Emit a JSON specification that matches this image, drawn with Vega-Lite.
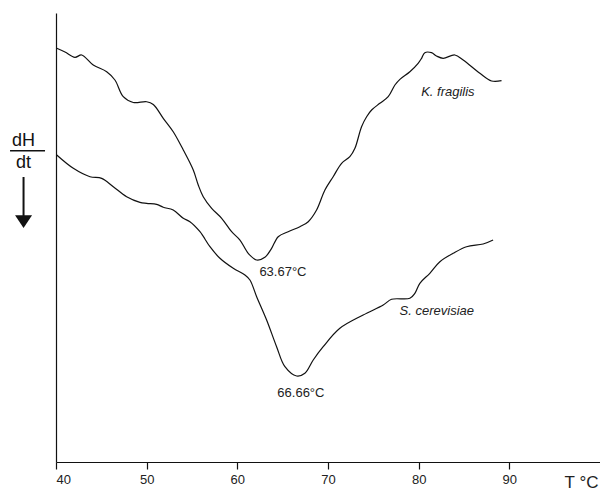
{
  "$schema": "https://vega.github.io/schema/vega-lite/v6.json",
  "width": 544,
  "height": 449,
  "autosize": "none",
  "padding": {"left": 56, "top": 13, "right": 0, "bottom": 28},
  "background": "white",
  "config": {
    "view": {"stroke": null},
    "font": "Liberation Sans",
    "axis": {"grid": false, "domainColor": "#111", "domainWidth": 1.2, "tickColor": "#111", "labelColor": "#222", "labelFont": "Liberation Sans", "labelFontSize": 13}
  },
  "datasets": {
    "curves": [
      {"series": "K. fragilis", "T": 40.08, "dH": 92.14},
      {"series": "K. fragilis", "T": 40.99, "dH": 91.31},
      {"series": "K. fragilis", "T": 42.09, "dH": 90.13},
      {"series": "K. fragilis", "T": 42.83, "dH": 90.65},
      {"series": "K. fragilis", "T": 44.11, "dH": 88.42},
      {"series": "K. fragilis", "T": 45.59, "dH": 86.93},
      {"series": "K. fragilis", "T": 46.5, "dH": 85.08},
      {"series": "K. fragilis", "T": 47.42, "dH": 81.36},
      {"series": "K. fragilis", "T": 48.52, "dH": 80.07},
      {"series": "K. fragilis", "T": 50.0, "dH": 80.24},
      {"series": "K. fragilis", "T": 50.73, "dH": 79.62},
      {"series": "K. fragilis", "T": 51.83, "dH": 76.55},
      {"series": "K. fragilis", "T": 52.93, "dH": 73.56},
      {"series": "K. fragilis", "T": 54.04, "dH": 69.49},
      {"series": "K. fragilis", "T": 55.14, "dH": 65.03},
      {"series": "K. fragilis", "T": 55.69, "dH": 61.69},
      {"series": "K. fragilis", "T": 56.24, "dH": 59.09},
      {"series": "K. fragilis", "T": 57.17, "dH": 56.5},
      {"series": "K. fragilis", "T": 58.27, "dH": 54.28},
      {"series": "K. fragilis", "T": 59.37, "dH": 51.29},
      {"series": "K. fragilis", "T": 60.29, "dH": 49.44},
      {"series": "K. fragilis", "T": 61.2, "dH": 46.48},
      {"series": "K. fragilis", "T": 62.13, "dH": 44.99},
      {"series": "K. fragilis", "T": 63.04, "dH": 45.59},
      {"series": "K. fragilis", "T": 63.78, "dH": 47.59},
      {"series": "K. fragilis", "T": 64.51, "dH": 50.18},
      {"series": "K. fragilis", "T": 65.61, "dH": 51.29},
      {"series": "K. fragilis", "T": 66.9, "dH": 52.41},
      {"series": "K. fragilis", "T": 67.82, "dH": 53.52},
      {"series": "K. fragilis", "T": 68.74, "dH": 56.12},
      {"series": "K. fragilis", "T": 69.66, "dH": 60.58},
      {"series": "K. fragilis", "T": 70.57, "dH": 63.54},
      {"series": "K. fragilis", "T": 71.5, "dH": 66.53},
      {"series": "K. fragilis", "T": 72.41, "dH": 68.0},
      {"series": "K. fragilis", "T": 72.97, "dH": 69.87},
      {"series": "K. fragilis", "T": 73.7, "dH": 74.68},
      {"series": "K. fragilis", "T": 74.26, "dH": 76.9},
      {"series": "K. fragilis", "T": 74.81, "dH": 78.4},
      {"series": "K. fragilis", "T": 75.72, "dH": 79.89},
      {"series": "K. fragilis", "T": 76.64, "dH": 81.36},
      {"series": "K. fragilis", "T": 77.38, "dH": 83.96},
      {"series": "K. fragilis", "T": 77.93, "dH": 85.23},
      {"series": "K. fragilis", "T": 79.03, "dH": 86.93},
      {"series": "K. fragilis", "T": 79.94, "dH": 88.8},
      {"series": "K. fragilis", "T": 80.32, "dH": 89.91},
      {"series": "K. fragilis", "T": 80.68, "dH": 91.16},
      {"series": "K. fragilis", "T": 81.42, "dH": 91.16},
      {"series": "K. fragilis", "T": 81.97, "dH": 90.42},
      {"series": "K. fragilis", "T": 82.7, "dH": 89.91},
      {"series": "K. fragilis", "T": 83.99, "dH": 90.65},
      {"series": "K. fragilis", "T": 84.91, "dH": 89.53},
      {"series": "K. fragilis", "T": 86.75, "dH": 86.57},
      {"series": "K. fragilis", "T": 88.04, "dH": 84.86},
      {"series": "K. fragilis", "T": 89.14, "dH": 84.92},
      {"series": "S. cerevisiae", "T": 40.08, "dH": 68.37},
      {"series": "S. cerevisiae", "T": 41.91, "dH": 65.41},
      {"series": "S. cerevisiae", "T": 43.75, "dH": 63.54},
      {"series": "S. cerevisiae", "T": 45.04, "dH": 63.18},
      {"series": "S. cerevisiae", "T": 46.32, "dH": 61.31},
      {"series": "S. cerevisiae", "T": 47.79, "dH": 59.09},
      {"series": "S. cerevisiae", "T": 49.26, "dH": 57.84},
      {"series": "S. cerevisiae", "T": 50.0, "dH": 57.62},
      {"series": "S. cerevisiae", "T": 51.1, "dH": 57.39},
      {"series": "S. cerevisiae", "T": 51.83, "dH": 56.73},
      {"series": "S. cerevisiae", "T": 52.93, "dH": 56.12},
      {"series": "S. cerevisiae", "T": 54.04, "dH": 54.28},
      {"series": "S. cerevisiae", "T": 54.77, "dH": 53.52},
      {"series": "S. cerevisiae", "T": 55.88, "dH": 51.29},
      {"series": "S. cerevisiae", "T": 56.98, "dH": 47.95},
      {"series": "S. cerevisiae", "T": 58.08, "dH": 45.37},
      {"series": "S. cerevisiae", "T": 59.55, "dH": 43.14},
      {"series": "S. cerevisiae", "T": 60.84, "dH": 41.65},
      {"series": "S. cerevisiae", "T": 61.39, "dH": 40.53},
      {"series": "S. cerevisiae", "T": 62.13, "dH": 36.82},
      {"series": "S. cerevisiae", "T": 63.23, "dH": 31.63},
      {"series": "S. cerevisiae", "T": 64.33, "dH": 25.68},
      {"series": "S. cerevisiae", "T": 65.25, "dH": 21.22},
      {"series": "S. cerevisiae", "T": 66.54, "dH": 19.15},
      {"series": "S. cerevisiae", "T": 67.45, "dH": 19.76},
      {"series": "S. cerevisiae", "T": 68.37, "dH": 22.72},
      {"series": "S. cerevisiae", "T": 69.47, "dH": 25.68},
      {"series": "S. cerevisiae", "T": 71.31, "dH": 29.78},
      {"series": "S. cerevisiae", "T": 73.88, "dH": 32.74},
      {"series": "S. cerevisiae", "T": 76.09, "dH": 34.97},
      {"series": "S. cerevisiae", "T": 77.01, "dH": 36.24},
      {"series": "S. cerevisiae", "T": 79.03, "dH": 36.46},
      {"series": "S. cerevisiae", "T": 79.58, "dH": 37.57},
      {"series": "S. cerevisiae", "T": 80.13, "dH": 39.8},
      {"series": "S. cerevisiae", "T": 81.23, "dH": 42.03},
      {"series": "S. cerevisiae", "T": 82.34, "dH": 44.61},
      {"series": "S. cerevisiae", "T": 83.8, "dH": 46.48},
      {"series": "S. cerevisiae", "T": 85.28, "dH": 47.95},
      {"series": "S. cerevisiae", "T": 87.11, "dH": 48.55},
      {"series": "S. cerevisiae", "T": 88.21, "dH": 49.44}
    ],
    "species": [
      {"T": 83.22, "dH": 82.4, "label": "K. fragilis"},
      {"T": 82.0, "dH": 33.63, "label": "S. cerevisiae"}
    ],
    "peaks": [
      {"T": 65.03, "dH": 42.3, "label": "63.67°C"},
      {"T": 67.01, "dH": 15.37, "label": "66.66°C"}
    ],
    "ylabel": [
      {"T": 36.42, "dH": 71.49, "label": "dH"},
      {"T": 36.42, "dH": 66.59, "label": "dt"}
    ],
    "frac": [
      {"T": 34.93, "T2": 38.79, "dH": 69.33}
    ],
    "arrow": [
      {"T": 36.42, "dH": 63.47, "dH2": 54.8}
    ],
    "head": [
      {"T": 36.42, "dH": 53.56}
    ]
  },
  "encoding": {
    "x": {
      "field": "T", "type": "quantitative",
      "scale": {"domain": [40, 100], "nice": false, "zero": false},
      "axis": {
        "values": [40, 50, 60, 70, 80, 90],
        "tickSize": 7, "labelPadding": 4, "tickWidth": 1.2,
        "title": "T °C", "titleFont": "Liberation Sans", "titleFontSize": 17, "titleFontWeight": "normal",
        "titleColor": "#222", "titleAnchor": "end", "titleAlign": "right", "titleBaseline": "alphabetic",
        "titleX": 542, "titleY": 25
      }
    },
    "y": {
      "field": "dH", "type": "quantitative",
      "scale": {"domain": [0, 100], "nice": false, "zero": false},
      "axis": {"ticks": false, "labels": false, "title": null, "domain": true}
    }
  },
  "layer": [
    {
      "data": {"name": "curves"},
      "mark": {"type": "line", "interpolate": "catmull-rom", "color": "#111", "strokeWidth": 1.2},
      "encoding": {"detail": {"field": "series"}}
    },
    {
      "data": {"name": "species"},
      "mark": {"type": "text", "font": "Liberation Sans", "fontSize": 13, "fontStyle": "italic", "color": "#222"},
      "encoding": {"text": {"field": "label"}}
    },
    {
      "data": {"name": "peaks"},
      "mark": {"type": "text", "font": "Liberation Sans", "fontSize": 13, "color": "#222"},
      "encoding": {"text": {"field": "label"}}
    },
    {
      "data": {"name": "ylabel"},
      "mark": {"type": "text", "font": "Liberation Sans", "fontSize": 18, "color": "#111"},
      "encoding": {"text": {"field": "label"}}
    },
    {
      "data": {"name": "frac"},
      "mark": {"type": "rule", "color": "#111", "strokeWidth": 1.6},
      "encoding": {"x2": {"field": "T2"}}
    },
    {
      "data": {"name": "arrow"},
      "mark": {"type": "rule", "color": "#111", "strokeWidth": 2},
      "encoding": {"y2": {"field": "dH2"}}
    },
    {
      "data": {"name": "head"},
      "mark": {"type": "point", "shape": "M-1,-0.75L1,-0.75L0,0.75Z", "size": 289, "filled": true, "color": "#111", "opacity": 1},
      "encoding": {}
    }
  ]
}
